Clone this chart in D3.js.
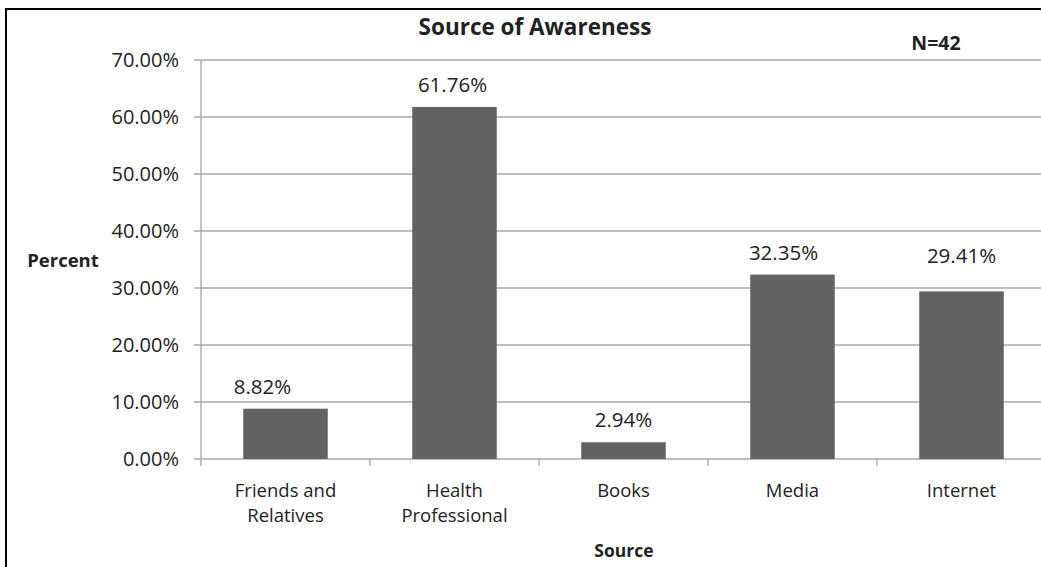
<!DOCTYPE html>
<html>
<head>
<meta charset="utf-8">
<script src="https://cdn.jsdelivr.net/npm/d3@7"></script>
<style>
  html, body { margin: 0; padding: 0; background: #fff; }
  svg { display: block; }
  text { font-family: "Open Sans", "Liberation Sans", sans-serif; fill: #222; }
</style>
</head>
<body>
<svg id="chart" width="1041" height="567"></svg>
<script>
// Source of awareness among respondents (N=42)
const categories = [["Friends and", "Relatives"], ["Health", "Professional"], ["Books"], ["Media"], ["Internet"]];
const percents = [8.82, 61.76, 2.94, 32.35, 29.41];
const yTicks = [0, 10, 20, 30, 40, 50, 60, 70];
const chartTitle = "Source of Awareness";
const sampleNote = "N=42";
const yTitle = "Percent";
const xTitle = "Source";

const W = 1041, H = 567;
const margin = { left: 201, top: 60, bottom: 108 };
const plotRight = 1046;

const svg = d3.select("#chart");

// outer frame
svg.append("rect")
  .attr("x", 6).attr("y", 9)
  .attr("width", W + 20).attr("height", H + 20)
  .attr("fill", "none").attr("stroke", "#000").attr("stroke-width", 2);

const keys = categories.map((c, i) => i);
const x = d3.scaleBand().domain(keys).range([margin.left, plotRight]).paddingInner(0.5).paddingOuter(0.25);
const xEdge = d3.scaleBand().domain(keys).range([margin.left, plotRight]);
const y = d3.scaleLinear().domain([0, 70]).range([H - margin.bottom, margin.top]);

// horizontal gridlines
svg.append("g").selectAll("line").data(yTicks).join("line")
  .attr("x1", margin.left - 7).attr("x2", W)
  .attr("y1", d => y(d)).attr("y2", d => y(d))
  .attr("stroke", "#a9a9a9").attr("stroke-width", 1.4);

// y axis line
svg.append("line")
  .attr("x1", margin.left).attr("x2", margin.left)
  .attr("y1", y(70)).attr("y2", y(0) + 7)
  .attr("stroke", "#a9a9a9").attr("stroke-width", 1.4);

// y tick labels
svg.append("g").selectAll("text").data(yTicks).join("text")
  .attr("x", 179).attr("y", d => y(d))
  .attr("dy", "0.36em")
  .attr("text-anchor", "end")
  .style("font-size", "20px")
  .text(d => d3.format(".2f")(d) + "%");

// category boundary ticks
svg.append("g").selectAll("line").data(keys.slice(1)).join("line")
  .attr("x1", d => xEdge(d)).attr("x2", d => xEdge(d))
  .attr("y1", y(0)).attr("y2", y(0) + 7)
  .attr("stroke", "#a9a9a9").attr("stroke-width", 1.4);

// bars
svg.append("g").selectAll("rect").data(percents).join("rect")
  .attr("x", (d, i) => x(i))
  .attr("width", x.bandwidth())
  .attr("y", d => y(d))
  .attr("height", d => y(0) - y(d))
  .attr("fill", "#636363");

// value labels (a few nudged to sit clear of neighbours)
const nudgeX = [-23, -2, 0, -9, 0];
const nudgeY = [0, 0, 0, 0, -13];
svg.append("g").selectAll("text").data(percents).join("text")
  .attr("x", (d, i) => x(i) + x.bandwidth() / 2 + nudgeX[i])
  .attr("y", (d, i) => y(d) - 15 + nudgeY[i])
  .attr("text-anchor", "middle")
  .style("font-size", "20.5px")
  .text(d => d3.format(".2f")(d) + "%");

// category labels, one text element per line
const catLines = categories.flatMap((lines, i) => lines.map((l, j) => ({ i, j, l })));
svg.append("g").selectAll("text").data(catLines).join("text")
  .attr("x", d => x(d.i) + x.bandwidth() / 2)
  .attr("y", d => 497 + d.j * 25)
  .attr("text-anchor", "middle")
  .style("font-size", "18.5px")
  .text(d => d.l);

// titles
svg.append("text").attr("x", 535).attr("y", 35)
  .attr("text-anchor", "middle")
  .style("font-size", "22.5px").style("font-weight", "bold")
  .text(chartTitle);
svg.append("text").attr("x", 936).attr("y", 50)
  .attr("text-anchor", "middle")
  .style("font-size", "19.5px").style("font-weight", "bold")
  .text(sampleNote);
svg.append("text").attr("x", 63).attr("y", 267)
  .attr("text-anchor", "middle")
  .style("font-size", "18.5px").style("font-weight", "bold")
  .text(yTitle);
svg.append("text").attr("x", 624).attr("y", 557)
  .attr("text-anchor", "middle")
  .style("font-size", "17.5px").style("font-weight", "bold")
  .text(xTitle);
</script>
</body>
</html>
